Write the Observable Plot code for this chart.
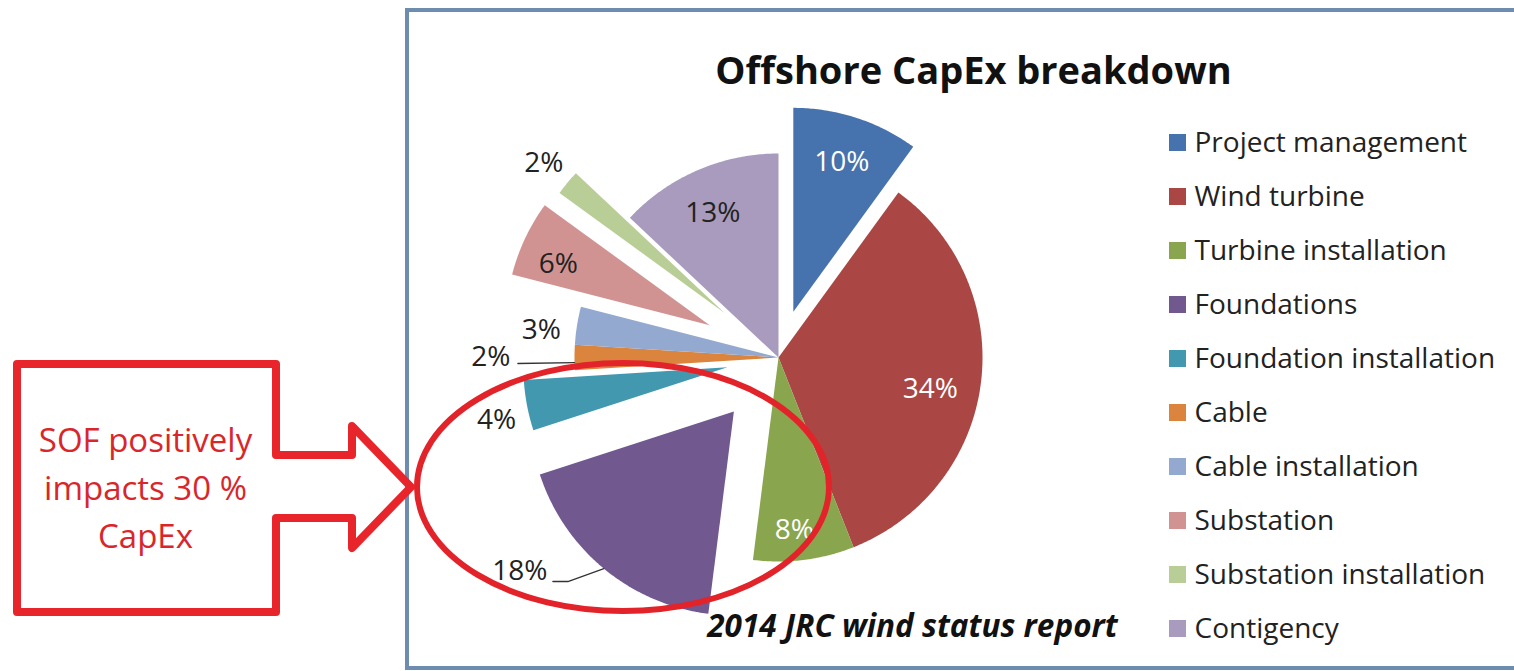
<!DOCTYPE html>
<html><head><meta charset="utf-8">
<script src="https://cdn.jsdelivr.net/npm/d3@7"></script>
<script src="https://cdn.jsdelivr.net/npm/@observablehq/plot@0.6"></script>
<style>
body{margin:0;background:#fff;}
#wrap{position:relative;width:1514px;height:671px;overflow:hidden;background:#fff}
#wrap svg{position:absolute;left:0;top:0}
</style>
</head><body><div id="wrap"></div>
<script>
// ---- data ----
const categories = ["Project management","Wind turbine","Turbine installation","Foundations","Foundation installation","Cable","Cable installation","Substation","Substation installation","Contigency"];
const shares = [10,34,8,18,4,2,3,6,2,13];
const colors = ["#4672AD","#AA4643","#89A54E","#71588F","#4198AF","#DB843D","#93A9CF","#D19392","#B9CD96","#A99BBD"];
const labelColors = ["#fff","#fff","#fff","#222","#222","#222","#222","#222","#222","#222"];
const title = "Offshore CapEx breakdown";
const source = "2014 JRC wind status report";
const noteLines = ["SOF positively","impacts 30 %","CapEx"];

// ---- layout ----
const W = 1514, H = 671;
const CX = 778, CY = 357, R = 204;
const explode = [48,0,0,70,52,0,0,76,70,0];
const labelR  = [0.77,0.76,0.85,1.31,1.16,1.41,1.17,0.80,1.15,0.78];
const labelDa = [0,4.7,2,13.6,-2,0,-2.5,-3.3,0,-1];
const FONT = "'Open Sans', Lato, sans-serif";

const arcs = d3.pie().sort(null).value(d => d)(shares);
const slicePts = [], labelPts = [], leaders = [];
arcs.forEach((p, i) => {
  const name = categories[i];
  const mid = (p.startAngle + p.endAngle) / 2;
  const ax = CX + explode[i] * Math.sin(mid), ay = CY - explode[i] * Math.cos(mid);
  slicePts.push({name, x: ax, y: ay});
  const n = Math.max(6, Math.ceil((p.endAngle - p.startAngle) / 0.01));
  for (let k = 0; k <= n; k++) {
    const a = p.startAngle + (p.endAngle - p.startAngle) * k / n;
    slicePts.push({name, x: ax + R * Math.sin(a), y: ay - R * Math.cos(a)});
  }
  slicePts.push({name, x: ax, y: ay});
  const la = mid + labelDa[i] * Math.PI / 180;
  labelPts.push({name, text: shares[i] + "%", color: labelColors[i],
    x: ax + labelR[i] * R * Math.sin(la), y: ay - labelR[i] * R * Math.cos(la)});
});
// leader lines for Foundations (18%) and Cable (2%)
{
  const i = 3, p = arcs[i], mid = (p.startAngle + p.endAngle) / 2;
  const ax = CX + explode[i] * Math.sin(mid), ay = CY - explode[i] * Math.cos(mid);
  const L = labelPts[i];
  leaders.push({k: "f", x: ax + R * Math.sin(mid), y: ay - R * Math.cos(mid)});
  leaders.push({k: "f", x: L.x + 48, y: L.y + 10});
  leaders.push({k: "f", x: L.x + 33, y: L.y + 10});
}
{
  const i = 5, p = arcs[i], a = p.startAngle + (p.endAngle - p.startAngle) * 0.3;
  const L = labelPts[i];
  leaders.push({k: "c", x: CX + R * Math.sin(a), y: CY - R * Math.cos(a)});
  leaders.push({k: "c", x: L.x + 27, y: L.y + 6});
}

const legendRows = categories.map((c, i) => ({c, y: 142.5 + 54 * i}));

const chart = Plot.plot({
  width: W, height: H, margin: 0, axis: null,
  x: {type: "identity"}, y: {type: "identity"},
  color: {domain: categories, range: colors},
  style: {background: "transparent", overflow: "visible"},
  marks: [
    Plot.rect([0], {x1: 407, x2: 1540, y1: 10, y2: 668, fill: "none", stroke: "#6E8BB0", strokeWidth: 4}),
    Plot.line(slicePts, {x: "x", y: "y", z: "name", fill: "name", stroke: "none", curve: "linear"}),
    Plot.line(leaders, {x: "x", y: "y", z: "k", stroke: "#333", strokeWidth: 1.3}),
    Plot.text(labelPts, {x: "x", y: "y", text: "text", fill: d => d.color, fontSize: 28, fontFamily: FONT}),
    Plot.text([title], {x: 973, y: 71, text: d => d, fontSize: 38, fontWeight: "bold", fontFamily: FONT, fill: "#111"}),
    Plot.text([source], {x: 912, y: 626, text: d => d, fontSize: 31.5, fontWeight: "bold", fontStyle: "italic", fontFamily: FONT, fill: "#111"}),
    Plot.rect(legendRows, {x1: 1169, x2: 1186, y1: d => d.y - 8.5, y2: d => d.y + 8.5, fill: "c"}),
    Plot.text(legendRows, {x: 1194, y: "y", text: "c", textAnchor: "start", fontSize: 28, fontFamily: FONT, fill: "#222"}),
    Plot.text(noteLines, {x: 145, y: (d, i) => 441 + 48 * i, text: d => d, fontSize: 33, fontFamily: FONT, fill: "#D9262B"})
  ]
});
const wrap = document.getElementById("wrap");
wrap.appendChild(chart);

// annotation overlay (callout arrow + ellipse)
const ns = "http://www.w3.org/2000/svg";
const ov = document.createElementNS(ns, "svg");
ov.setAttribute("width", W); ov.setAttribute("height", H);
ov.innerHTML = `
<ellipse cx="623" cy="487" rx="206" ry="124" fill="none" stroke="#E3232A" stroke-width="6"/>
<path d="M17,364 H276 V455 H352 V426 L411,487 L352,548 V518 H276 V612 H17 Z" fill="none" stroke="#E8252B" stroke-width="8" stroke-linejoin="round"/>`;
wrap.appendChild(ov);
</script>
</body></html>
